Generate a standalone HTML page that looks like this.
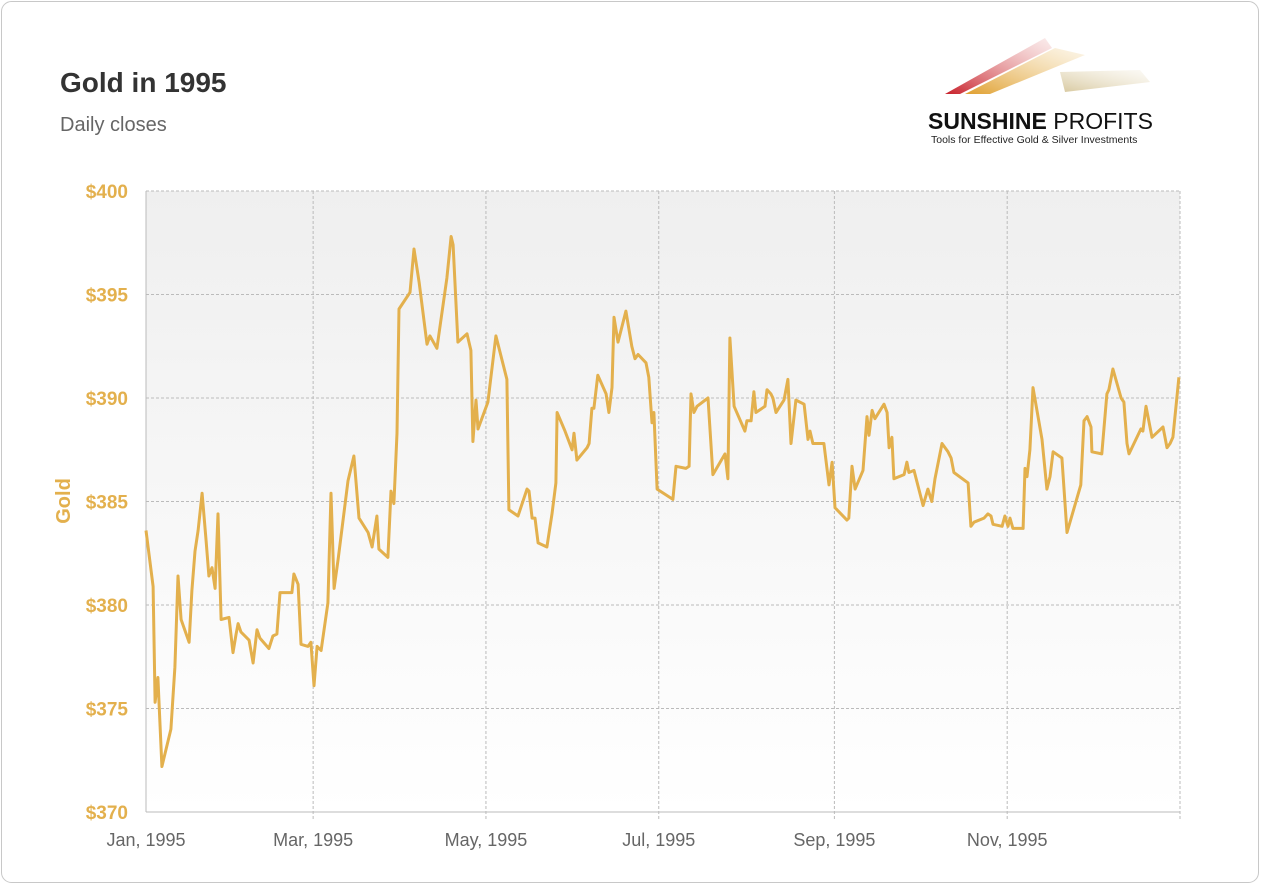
<!DOCTYPE html>
<html><head><meta charset="utf-8"><style>
html,body{margin:0;padding:0;background:#fff;}
body{width:1261px;height:885px;overflow:hidden;font-family:"Liberation Sans",sans-serif;}
</style></head><body>
<svg width="1261" height="885" xmlns="http://www.w3.org/2000/svg">
<defs>
<linearGradient id="bg" x1="0" y1="0" x2="0" y2="1"><stop offset="0" stop-color="#efefef"/><stop offset="1" stop-color="#ffffff"/></linearGradient>
<linearGradient id="s1" x1="0" y1="1" x2="1" y2="0"><stop offset="0" stop-color="#c8202a"/><stop offset="1" stop-color="#e8a0a0" stop-opacity="0.2"/></linearGradient>
<linearGradient id="s2" x1="0" y1="1" x2="1" y2="0"><stop offset="0" stop-color="#e0a030"/><stop offset="1" stop-color="#f0d090" stop-opacity="0.2"/></linearGradient>
<linearGradient id="s3" x1="0" y1="1" x2="1" y2="0"><stop offset="0" stop-color="#d8c9a0"/><stop offset="1" stop-color="#eee6d0" stop-opacity="0.2"/></linearGradient>
</defs>
<rect x="1.5" y="1.5" width="1257" height="881" rx="10" fill="#fff" stroke="#c8c8c8"/>
<text x="60" y="92" font-size="28" font-weight="bold" fill="#333" font-family="Liberation Sans, sans-serif">Gold in 1995</text>
<text x="60" y="131" font-size="20" fill="#666">Daily closes</text>
<g>
<path d="M945,94 L1045,38 L1052,48 L960,94 Z" fill="url(#s1)"/>
<path d="M965,94 L1055,48 L1085,55 L990,94 Z" fill="url(#s2)"/>
<path d="M1060,72 L1140,70 L1150,82 L1065,92 Z" fill="url(#s3)"/>
<text x="928" y="129" font-size="23" font-weight="bold" fill="#111">SUNSHINE <tspan font-weight="normal">PROFITS</tspan></text>
<text x="931" y="143" font-size="10.5" fill="#222">Tools for Effective Gold &amp; Silver Investments</text>
</g>
<rect x="146" y="191" width="1034" height="621" fill="url(#bg)"/>
<g id="grid"></g>
<line x1="146" y1="191" x2="146" y2="812" stroke="#bbb"/>
<line x1="146" y1="812" x2="1180" y2="812" stroke="#bbb"/>
<g id="ylabels"></g>
<g id="xlabels"></g>
<text transform="translate(70,501) rotate(-90)" text-anchor="middle" font-size="20" font-weight="bold" fill="#e3b04d">Gold</text>
<path id="line" fill="none" stroke="#e3b04d" stroke-width="3" stroke-linejoin="round"/>
</svg>
<script>
const yTicks=[370,375,380,385,390,395,400];
const yTickLabels=["$370","$375","$380","$385","$390","$395","$400"];
const xTickDays=[0,59,120,181,243,304,365];
const xTickLabels=["Jan, 1995","Mar, 1995","May, 1995","Jul, 1995","Sep, 1995","Nov, 1995",""];
const days=[0,2.5,3.2,4.2,5.6,8.8,10.2,11.3,12.4,15.2,16.2,17.3,18.4,19.8,21.2,22.2,23.3,24.4,25.4,26.5,29.3,30.7,31.8,32.5,33.5,36.4,37.8,39.2,40.2,43.4,44.8,46.2,47.3,51.5,52.2,53.7,54.7,57.2,58.2,59.3,60.4,61.8,64.2,65.3,66.4,67.8,71.3,73.4,75.2,78.4,79.8,81.5,82.2,85.4,86.5,87.5,88.6,89.3,93.2,94.6,96.4,99.2,100.2,102.7,106.2,107.7,108.4,110.1,113.3,114.7,115.4,116.5,117.2,120.7,122.1,123.5,127.4,128.1,131.3,134.5,135.2,136.3,137.3,138.4,141.5,143.3,144.7,145.1,147.9,150.4,151.1,152.1,155.7,156.4,157.4,158.1,159.5,162.4,163.4,164.5,165.2,166.6,169.4,171.5,172.6,173.7,176.5,177.5,178.6,179.3,180.4,186.0,187.1,190.6,191.7,192.4,193.4,194.5,198.4,200.1,204.4,205.4,206.1,207.6,211.4,212.1,213.6,214.6,215.3,218.5,219.2,220.6,221.3,222.4,225.2,226.6,227.7,229.4,232.3,233.7,234.4,235.4,239.3,241.1,242.2,243.2,247.4,248.1,249.2,250.3,253.1,254.5,255.2,256.3,257.3,260.5,261.6,262.3,263.3,264.0,267.6,268.6,269.3,271.1,274.3,276.0,277.4,278.5,281.0,283.1,284.2,285.2,290.2,291.2,292.3,295.8,297.2,298.3,299.0,302.2,303.2,304.3,305.0,306.0,309.6,310.3,311.0,312.0,313.1,316.3,318.0,319.1,320.2,323.3,325.1,330.0,331.1,332.2,333.6,333.9,337.4,339.2,339.9,341.3,344.2,345.2,346.3,347.0,351.2,351.9,353.0,355.1,359.0,360.4,361.5,362.5,364.6];
const prices=[383.6,380.9,375.3,376.5,372.2,374.0,377.0,381.4,379.3,378.2,380.7,382.6,383.6,385.4,383.1,381.4,381.8,380.8,384.4,379.3,379.4,377.7,378.6,379.1,378.7,378.3,377.2,378.8,378.4,377.9,378.5,378.6,380.6,380.6,381.5,381.0,378.1,378.0,378.2,376.1,378.0,377.8,380.1,385.4,380.8,382.2,386.0,387.2,384.2,383.5,382.8,384.3,382.7,382.3,385.5,384.9,388.3,394.3,395.1,397.2,395.6,392.6,393.0,392.4,395.8,397.8,397.4,392.7,393.1,392.3,387.9,389.9,388.5,389.8,391.4,393.0,390.9,384.6,384.3,385.6,385.5,384.2,384.2,383.0,382.8,384.4,385.9,389.3,388.4,387.5,388.3,387.0,387.6,387.8,389.5,389.5,391.1,390.2,389.3,390.5,393.9,392.7,394.2,392.5,391.9,392.1,391.7,391.0,388.8,389.3,385.6,385.1,386.7,386.6,386.7,390.2,389.3,389.6,390.0,386.3,387.3,386.1,392.9,389.6,388.4,388.9,388.9,390.3,389.3,389.6,390.4,390.2,390.0,389.3,389.9,390.9,387.8,389.9,389.7,388.0,388.4,387.8,387.8,385.8,386.9,384.7,384.1,384.2,386.7,385.6,386.5,389.1,388.2,389.4,389.0,389.7,389.3,387.6,388.1,386.1,386.3,386.9,386.4,386.5,384.8,385.6,385.0,386.1,387.8,387.4,387.1,386.4,385.9,383.8,384.0,384.2,384.4,384.3,383.9,383.8,384.3,383.8,384.2,383.7,383.7,386.6,386.2,387.5,390.5,388.0,385.6,386.2,387.4,387.1,383.5,385.8,388.9,389.1,388.6,387.4,387.3,390.2,390.4,391.4,390.0,389.8,387.8,387.3,388.5,388.4,389.6,388.1,388.6,387.6,387.8,388.1,391.0];
const X0=146,X1=1180,Y0=812,Y1=191;
const xs=d=>X0+(d/365)*(X1-X0);
const ys=v=>Y0-(v-370)/30*(Y0-Y1);
const NS="http://www.w3.org/2000/svg";
const grid=document.getElementById('grid'),yl=document.getElementById('ylabels'),xl=document.getElementById('xlabels');
yTicks.forEach((t,i)=>{
  const y=ys(t);
  if(i>0){const l=document.createElementNS(NS,'line');
  l.setAttribute('x1',X0);l.setAttribute('x2',X1);l.setAttribute('y1',y);l.setAttribute('y2',y);
  l.setAttribute('stroke','#bbb');l.setAttribute('stroke-dasharray','3,2');
  
  
  grid.appendChild(l);}
  const tx=document.createElementNS(NS,'text');
  tx.setAttribute('x',128);tx.setAttribute('y',y+7);tx.setAttribute('text-anchor','end');
  tx.setAttribute('font-size','19');tx.setAttribute('font-weight','bold');tx.setAttribute('fill','#e3b04d');
  tx.textContent=yTickLabels[i];
  
  
  yl.appendChild(tx);
});
xTickDays.forEach((d,i)=>{
  const x=xs(d);
  if(i>0){const l=document.createElementNS(NS,'line');
  l.setAttribute('x1',x);l.setAttribute('x2',x);l.setAttribute('y1',Y1);l.setAttribute('y2',Y0+8);
  l.setAttribute('stroke','#bbb');l.setAttribute('stroke-dasharray','3,2');
  
  
  grid.appendChild(l);}
  if(xTickLabels[i]){const tx=document.createElementNS(NS,'text');
  tx.setAttribute('x',x);tx.setAttribute('y',846);tx.setAttribute('text-anchor','middle');
  tx.setAttribute('font-size','18');tx.setAttribute('fill','#666');
  tx.textContent=xTickLabels[i];
  
  
  xl.appendChild(tx);}
});
document.getElementById('line').setAttribute('d',days.map((d,i)=>(i?'L':'M')+xs(d).toFixed(1)+','+ys(prices[i]).toFixed(1)).join(' '));
</script>
</body></html>
